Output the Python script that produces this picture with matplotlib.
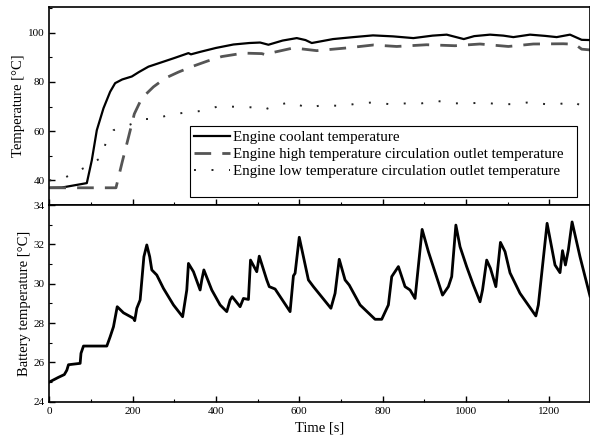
import numpy as np
import matplotlib
matplotlib.use('Agg')
import matplotlib.pyplot as plt
from matplotlib.ticker import MultipleLocator
from matplotlib.patches import Rectangle

plt.rcParams['font.family'] = ['Liberation Serif', 'DejaVu Serif']

# engine coolant temperature
t_cool = [0, 30, 90, 102, 114, 130, 146, 158, 175, 198, 215, 238, 270, 300, 334, 340,
          362, 400, 442, 480, 506, 526, 560, 594, 615, 630, 681, 730, 777, 825, 874,
          920, 954, 995, 1020, 1058, 1090, 1114, 1154, 1190, 1218, 1250, 1278, 1298]
T_cool = [37, 37.1, 38.9, 48.2, 60.4, 69.3, 76, 79.5, 81, 82.2, 84, 86.2, 88, 89.7, 91.7, 91.2,
          92.2, 93.8, 95.2, 95.8, 96, 95.1, 96.8, 97.8, 97, 95.8, 97.4, 98.2, 98.9, 98.5, 97.8,
          98.8, 99.2, 97.4, 98.6, 99.2, 98.8, 98.2, 99.2, 98.7, 98.2, 99.2, 97.1, 97.0]

# high temperature circulation outlet
t_high = [0, 160, 175, 190, 204, 222, 250, 278, 310, 342, 380, 414, 466, 510, 522, 538,
          586, 642, 714, 778, 834, 906, 974, 1034, 1102, 1162, 1234, 1262, 1278, 1298]
T_high = [37, 37, 47.5, 57.5, 67, 73.4, 78, 81.5, 84, 86.2, 88.5, 90.3, 91.7, 91.5, 90.9, 92,
          93.8, 92.7, 93.8, 95, 94.4, 95.1, 94.7, 95.4, 94.4, 95.4, 95.5, 95.3, 93.3, 93]

# low temperature circulation outlet
t_low = [0, 30, 64, 100, 126, 136, 154, 190, 226, 254, 292, 330, 370, 408, 446, 483, 514,
         546, 582, 619, 656, 705, 741, 782, 819, 858, 894, 934, 970, 1006, 1044, 1080, 1118,
         1155, 1194, 1224, 1258, 1280, 1298]
T_low = [40, 40.5, 43.4, 46.5, 49.5, 55.6, 60.4, 62.4, 64.9, 65, 66.8, 67.6, 68.3, 70.2, 69.9,
         69.7, 68.6, 70.6, 71.8, 69.4, 70.6, 70.2, 71.3, 71.7, 70.9, 71.3, 71.3, 72.2, 71.3,
         71.3, 71.6, 70.9, 71, 71.8, 70.9, 71, 72, 70, 68.3]

# battery temperature
t_bat = [0, 22, 36, 42, 46, 74, 76, 82, 138, 146, 154, 163, 178, 202, 205, 210, 218, 227, 234,
         241, 246, 258, 274, 298, 320, 330, 334, 346, 362, 366, 371, 390, 410, 426, 434, 439,
         458, 466, 478, 483, 498, 504, 522, 528, 542, 578, 586, 590, 600, 622, 634, 676, 686,
         696, 710, 720, 746, 782, 798, 814, 822, 838, 854, 866, 878, 895, 910, 944, 958, 966,
         976, 986, 1002, 1018, 1034, 1040, 1050, 1059, 1072, 1083, 1094, 1106, 1130, 1168,
         1174, 1195, 1214, 1226, 1232, 1239, 1246, 1255, 1274, 1298]
T_bat = [25.0, 25.24, 25.38, 25.6, 25.88, 25.95, 26.46, 26.83, 26.83, 27.3, 27.81, 28.83, 28.52,
         28.24, 28.12, 28.75, 29.17, 31.37, 31.97, 31.37, 30.7, 30.44, 29.76, 28.92, 28.32, 29.68,
         31.03, 30.61, 29.68, 30.19, 30.7, 29.68, 28.92, 28.58, 29.17, 29.34, 28.83, 29.25, 29.2,
         31.2, 30.61, 31.4, 30.19, 29.85, 29.73, 28.58, 30.4, 30.53, 32.36, 30.19, 29.85, 28.75,
         29.51, 31.24, 30.19, 29.93, 28.92, 28.19, 28.19, 28.92, 30.36, 30.87, 29.85, 29.68,
         29.25, 32.76, 31.63, 29.42, 29.85, 30.36, 32.98, 31.88, 30.86, 29.93, 29.08, 29.68,
         31.2, 30.78, 29.85, 32.1, 31.63, 30.55, 29.51, 28.36, 28.92, 33.07, 30.95, 30.56,
         31.68, 30.95, 31.71, 33.14, 31.37, 29.37]

fig = plt.figure(figsize=(5.9, 4.41), dpi=100)
ax1 = fig.add_axes([0.0836, 0.5351, 1 - 0.0836, 0.9834 - 0.5351])
ax2 = fig.add_axes([0.0836, 0.0891, 1 - 0.0836, 0.5351 - 0.0891])

ax1.plot(t_cool, T_cool, color='black', lw=1.6, label='Engine coolant temperature')
ax1.plot(t_high, T_high, color='#555555', lw=2.0, ls=(0, (6, 4)),
         label='Engine high temperature circulation outlet temperature')
ax1.plot(t_low, T_low, color='#222222', lw=1.4, ls=(0, (1, 8)),
         label='Engine low temperature circulation outlet temperature')
ax1.set_ylim(30, 110.3)
ax1.set_yticks([40, 60, 80, 100])
ax1.yaxis.set_minor_locator(MultipleLocator(10))
ax1.set_ylabel('Temperature [°C]', fontsize=10.5, labelpad=2)
ax1.tick_params(labelbottom=False)

# legend frame drawn separately (box is taller than the entries)
ax1.add_patch(Rectangle((0.260, 0.039), 0.716, 0.362, transform=ax1.transAxes,
                        fill=True, facecolor='white', edgecolor='black', lw=0.8, zorder=4))
leg = ax1.legend(loc='upper left', bbox_to_anchor=(0.258, 0.401), fontsize=10.8,
                 frameon=False, handlelength=2.4, borderpad=0.35, labelspacing=0.22,
                 handletextpad=0.2, borderaxespad=0)
leg.set_zorder(5)

ax2.plot(t_bat, T_bat, color='black', lw=2.0)
ax2.set_ylim(24, 34)
ax2.set_yticks([24, 26, 28, 30, 32, 34])
ax2.yaxis.set_minor_locator(MultipleLocator(1))
ax2.set_ylabel('Battery temperature [°C]', fontsize=10.5, labelpad=2)
ax2.set_xlabel('Time [s]', fontsize=10.5)

for ax in (ax1, ax2):
    ax.set_xlim(0, 1298)
    ax.set_xticks(np.arange(0, 1201, 200))
    ax.xaxis.set_minor_locator(MultipleLocator(100))
    ax.tick_params(which='both', direction='in', labelsize=8, top=False, right=False)
    ax.tick_params(which='major', length=4, width=1)
    ax.tick_params(which='minor', length=2.5, width=0.8)
    for sp in ax.spines.values():
        sp.set_linewidth(1.2)

fig.savefig('out.png', dpi=100)
